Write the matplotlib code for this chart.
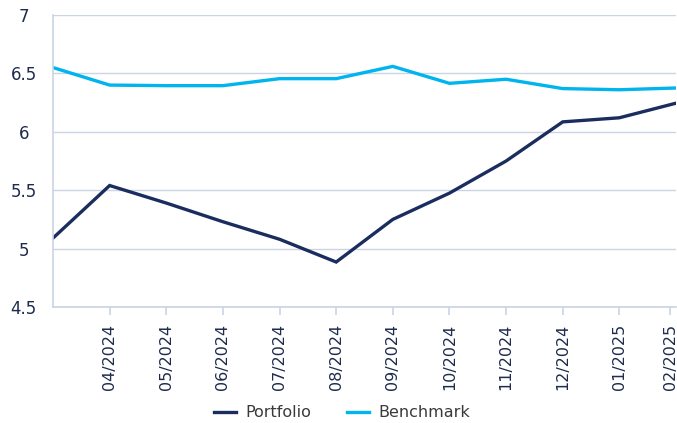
import matplotlib
matplotlib.use("Agg")
import matplotlib.pyplot as plt

# ---------------------------------------------------------------------
# Data
# ---------------------------------------------------------------------
months = ["03/2024", "04/2024", "05/2024", "06/2024", "07/2024", "08/2024",
          "09/2024", "10/2024", "11/2024", "12/2024", "01/2025", "02/2025"]
portfolio = [5.09, 5.54, 5.39, 5.23, 5.08, 4.885, 5.25, 5.475, 5.75, 6.085, 6.12, 6.245]
benchmark = [6.55, 6.40, 6.395, 6.395, 6.455, 6.455, 6.56, 6.415, 6.45, 6.37, 6.36, 6.375]
yticks = [4.5, 5, 5.5, 6, 6.5, 7]

NAVY  = "#1b2d5f"
CYAN  = "#00b4ee"
GRID  = "#c9d4e4"
TEXT  = "#1e2b4d"

plt.rcParams["font.family"] = ["DejaVu Sans"]

fig = plt.figure(figsize=(6.77, 4.23), dpi=100)
ax = fig.add_axes([53 / 677, 1 - 307 / 423, 623 / 677, 292 / 423])

x = list(range(len(months)))
ax.plot(x, portfolio, color=NAVY, lw=2.4, label="Portfolio", solid_joinstyle="miter")
ax.plot(x, benchmark, color=CYAN, lw=2.4, label="Benchmark", solid_joinstyle="miter")

ax.set_xlim(0, len(months) - 1)
ax.set_ylim(4.5, 7)
ax.set_yticks(yticks)
ax.set_yticklabels([f"{v:g}" for v in yticks])
# last tick sits a little inside the right edge, as in the reference
xt = x[1:-1] + [x[-1] - 0.1]
ax.set_xticks(xt)
ax.set_xticklabels(months[1:], rotation=90)

ax.grid(axis="y", color=GRID, lw=1)
ax.set_axisbelow(True)
for side in ["top", "right"]:
    ax.spines[side].set_visible(False)
for side in ["left", "bottom"]:
    ax.spines[side].set_color(GRID)
    ax.spines[side].set_linewidth(1.2)

ax.tick_params(axis="y", length=0, pad=21, labelsize=12, labelcolor=TEXT)
ax.tick_params(axis="x", length=6, width=1.2, color=GRID, pad=6,
               labelsize=11.5, labelcolor=TEXT)
for lbl in ax.get_yticklabels():
    lbl.set_horizontalalignment("center")

leg = fig.legend(loc="lower center", bbox_to_anchor=(0.505, -0.028), ncol=2,
                 frameon=False, fontsize=11.5, handlelength=1.4,
                 columnspacing=2.2, handletextpad=0.6)
for t in leg.get_texts():
    t.set_color("#3a3a3a")

fig.savefig("out.png", dpi=100)
